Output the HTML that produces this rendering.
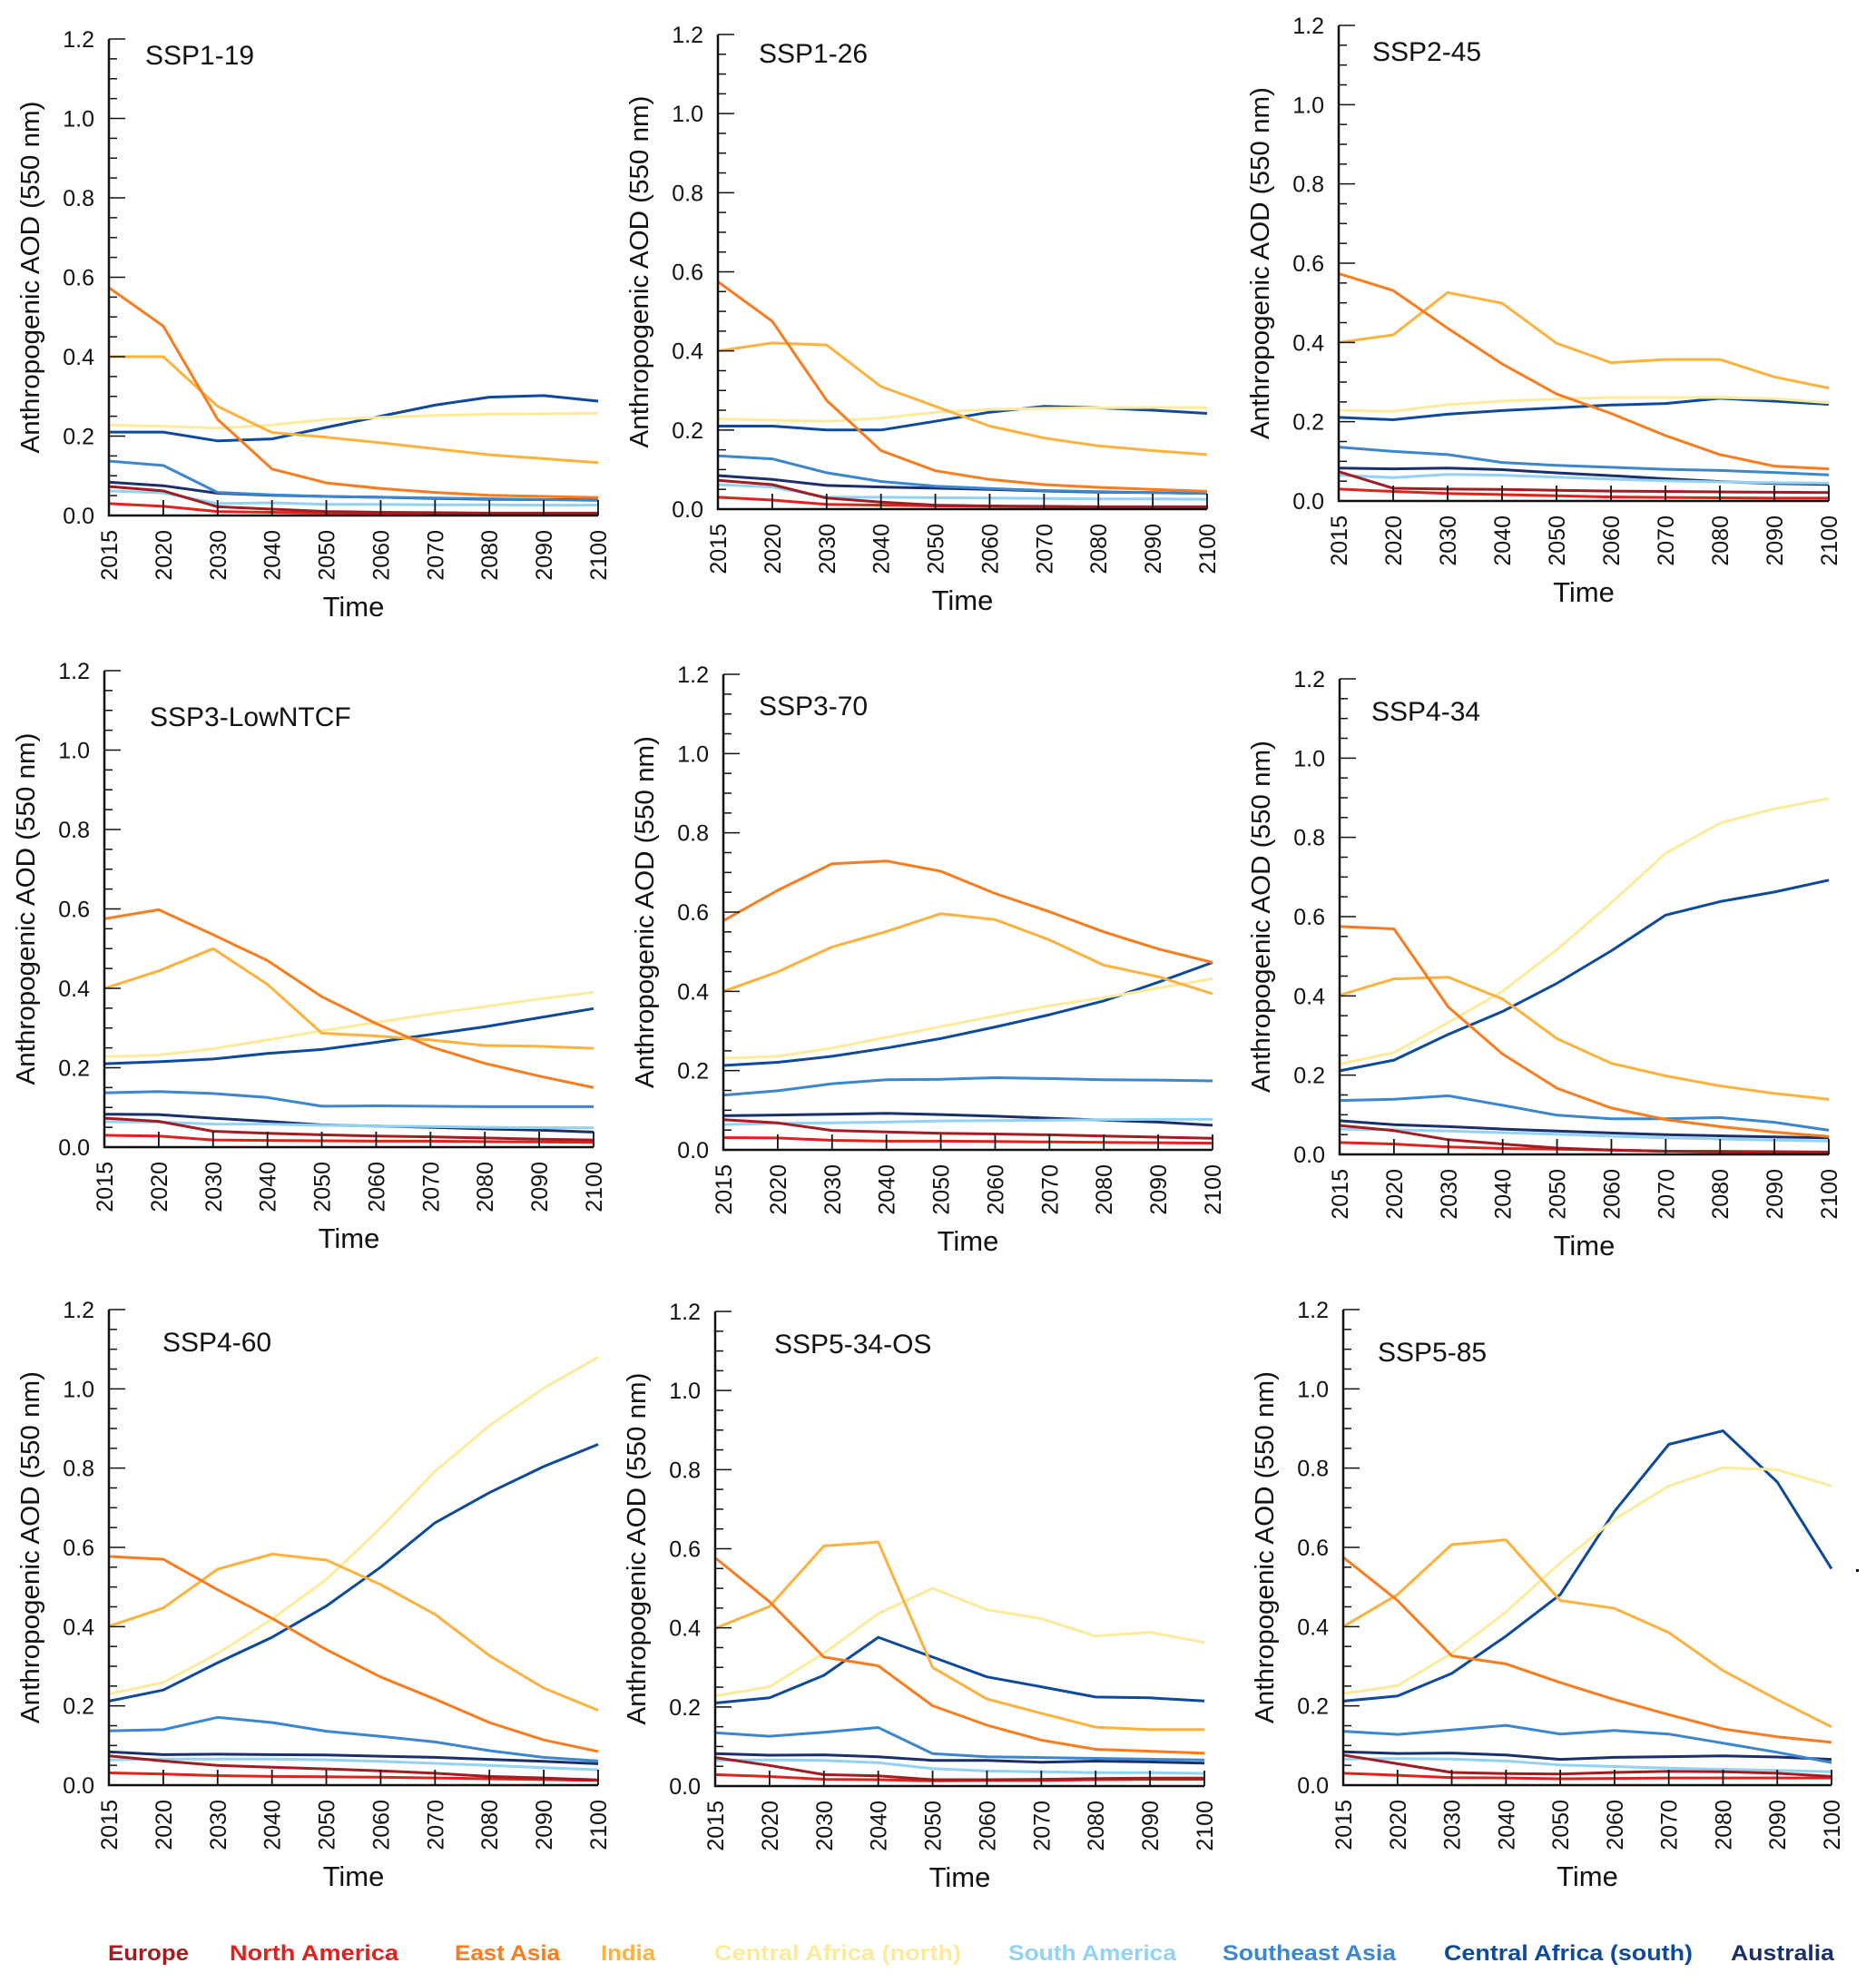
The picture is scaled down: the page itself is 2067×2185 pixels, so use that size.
<!DOCTYPE html>
<html><head><meta charset="utf-8"><style>
html,body{margin:0;padding:0;background:#fff}
svg{display:block}
text{font-family:"Liberation Sans",sans-serif}
</style></head><body>
<svg id="fig" width="2067" height="2185" viewBox="0 0 2067 2185" xmlns="http://www.w3.org/2000/svg"></svg>
<script>
const years = ["2015","2020","2030","2040","2050","2060","2070","2080","2090","2100"];
const yTicks = [0,0.2,0.4,0.6,0.8,1.0,1.2];
const yTickLabels = ["0.0","0.2","0.4","0.6","0.8","1.0","1.2"];
const regions = ["Europe","North America","East Asia","India","Central Africa (north)","South America","Southeast Asia","Central Africa (south)","Australia"];
const regionColors = ["#a31c22","#e3211c","#f97c1f","#feb23e","#fdeb9c","#92d2f4","#3b86d0","#0e4a9c","#1b2f6c"];
const scenarios = ["SSP1-19","SSP1-26","SSP2-45","SSP3-LowNTCF","SSP3-70","SSP4-34","SSP4-60","SSP5-34-OS","SSP5-85"];

const ssp119 = [
 [0.073,0.062,0.022,0.016,0.010,0.008,0.007,0.006,0.006,0.006],
 [0.030,0.023,0.010,0.008,0.006,0.005,0.004,0.004,0.004,0.004],
 [0.574,0.477,0.242,0.117,0.082,0.068,0.058,0.051,0.048,0.045],
 [0.400,0.400,0.275,0.209,0.197,0.183,0.168,0.153,0.143,0.133],
 [0.228,0.225,0.220,0.228,0.242,0.247,0.252,0.255,0.256,0.258],
 [0.062,0.057,0.030,0.032,0.028,0.028,0.027,0.027,0.026,0.026],
 [0.137,0.126,0.058,0.052,0.048,0.046,0.044,0.042,0.040,0.038],
 [0.210,0.210,0.188,0.193,0.222,0.250,0.278,0.298,0.302,0.288],
 [0.084,0.075,0.056,0.051,0.048,0.046,0.043,0.041,0.040,0.040]];
const ssp126 = [
 [0.073,0.062,0.028,0.018,0.010,0.008,0.007,0.006,0.006,0.006],
 [0.030,0.023,0.012,0.010,0.008,0.007,0.006,0.005,0.005,0.005],
 [0.575,0.475,0.275,0.148,0.097,0.075,0.062,0.055,0.050,0.045],
 [0.400,0.420,0.415,0.310,0.260,0.210,0.180,0.160,0.148,0.138],
 [0.228,0.225,0.222,0.230,0.245,0.252,0.255,0.256,0.257,0.257],
 [0.062,0.056,0.030,0.030,0.029,0.028,0.027,0.026,0.026,0.025],
 [0.135,0.127,0.092,0.070,0.058,0.052,0.047,0.044,0.042,0.040],
 [0.210,0.210,0.200,0.200,0.222,0.245,0.260,0.256,0.250,0.242],
 [0.085,0.075,0.060,0.056,0.053,0.050,0.046,0.043,0.042,0.040]];
const ssp245 = [
 [0.074,0.032,0.030,0.029,0.027,0.025,0.024,0.023,0.022,0.021],
 [0.030,0.024,0.019,0.016,0.013,0.010,0.009,0.008,0.007,0.007],
 [0.574,0.531,0.436,0.346,0.270,0.221,0.165,0.117,0.088,0.081],
 [0.400,0.419,0.526,0.499,0.398,0.349,0.357,0.357,0.313,0.285],
 [0.229,0.226,0.243,0.252,0.257,0.261,0.261,0.261,0.258,0.248],
 [0.065,0.059,0.067,0.065,0.060,0.055,0.051,0.048,0.046,0.045],
 [0.136,0.125,0.117,0.097,0.090,0.085,0.080,0.077,0.072,0.066],
 [0.211,0.205,0.219,0.228,0.235,0.242,0.246,0.259,0.252,0.244],
 [0.083,0.081,0.083,0.079,0.071,0.064,0.056,0.049,0.044,0.042]];
const ssp3low = [
 [0.073,0.065,0.040,0.035,0.031,0.028,0.026,0.023,0.020,0.018],
 [0.030,0.028,0.018,0.017,0.016,0.015,0.015,0.014,0.013,0.012],
 [0.575,0.598,0.535,0.470,0.379,0.311,0.253,0.211,0.179,0.150],
 [0.400,0.444,0.500,0.410,0.287,0.280,0.270,0.256,0.254,0.249],
 [0.228,0.232,0.248,0.270,0.293,0.314,0.335,0.354,0.373,0.390],
 [0.064,0.063,0.058,0.058,0.055,0.053,0.052,0.050,0.049,0.049],
 [0.137,0.140,0.135,0.125,0.103,0.104,0.103,0.102,0.102,0.102],
 [0.210,0.215,0.222,0.236,0.246,0.264,0.284,0.303,0.326,0.349],
 [0.083,0.082,0.073,0.065,0.056,0.053,0.050,0.046,0.043,0.038]];
const ssp370 = [
 [0.076,0.068,0.049,0.045,0.042,0.040,0.038,0.035,0.032,0.029],
 [0.031,0.030,0.024,0.022,0.022,0.021,0.020,0.019,0.018,0.017],
 [0.578,0.655,0.722,0.729,0.703,0.647,0.601,0.550,0.507,0.473],
 [0.400,0.449,0.512,0.551,0.596,0.581,0.530,0.466,0.437,0.394],
 [0.231,0.236,0.257,0.284,0.311,0.338,0.364,0.384,0.408,0.432],
 [0.064,0.067,0.068,0.070,0.073,0.074,0.075,0.076,0.077,0.077],
 [0.138,0.149,0.167,0.177,0.178,0.182,0.180,0.177,0.176,0.174],
 [0.213,0.221,0.236,0.257,0.281,0.310,0.341,0.376,0.423,0.473],
 [0.086,0.088,0.090,0.092,0.089,0.085,0.080,0.075,0.070,0.062]];
const ssp434 = [
 [0.073,0.060,0.037,0.026,0.016,0.011,0.008,0.006,0.005,0.005],
 [0.030,0.026,0.019,0.015,0.013,0.011,0.008,0.008,0.007,0.006],
 [0.575,0.569,0.372,0.253,0.167,0.117,0.088,0.070,0.056,0.045],
 [0.402,0.443,0.447,0.392,0.292,0.230,0.198,0.173,0.154,0.139],
 [0.228,0.257,0.333,0.412,0.517,0.635,0.760,0.836,0.872,0.898],
 [0.064,0.062,0.059,0.055,0.051,0.046,0.042,0.039,0.036,0.034],
 [0.136,0.139,0.148,0.124,0.099,0.090,0.090,0.093,0.081,0.061],
 [0.211,0.238,0.303,0.361,0.432,0.514,0.604,0.638,0.662,0.692],
 [0.085,0.075,0.070,0.064,0.059,0.054,0.050,0.047,0.044,0.042]];
const ssp460 = [
 [0.074,0.061,0.050,0.045,0.041,0.036,0.030,0.022,0.018,0.013],
 [0.031,0.028,0.024,0.022,0.021,0.020,0.018,0.016,0.014,0.012],
 [0.577,0.570,0.493,0.421,0.342,0.273,0.217,0.158,0.114,0.085],
 [0.401,0.447,0.545,0.583,0.568,0.506,0.431,0.327,0.245,0.189],
 [0.230,0.259,0.332,0.419,0.519,0.649,0.792,0.907,1.002,1.080],
 [0.064,0.066,0.066,0.066,0.064,0.060,0.055,0.050,0.044,0.039],
 [0.137,0.140,0.171,0.158,0.136,0.123,0.109,0.087,0.070,0.061],
 [0.212,0.240,0.309,0.373,0.452,0.550,0.662,0.738,0.804,0.860],
 [0.084,0.077,0.078,0.077,0.076,0.073,0.070,0.065,0.060,0.054]];
const ssp534 = [
 [0.072,0.052,0.029,0.026,0.016,0.016,0.017,0.019,0.020,0.020],
 [0.029,0.024,0.017,0.016,0.013,0.014,0.014,0.016,0.017,0.017],
 [0.577,0.466,0.326,0.304,0.203,0.154,0.116,0.093,0.088,0.083],
 [0.399,0.454,0.607,0.617,0.300,0.220,0.184,0.149,0.143,0.143],
 [0.228,0.251,0.336,0.436,0.500,0.446,0.423,0.379,0.389,0.363],
 [0.065,0.066,0.065,0.059,0.044,0.038,0.036,0.034,0.034,0.032],
 [0.135,0.126,0.136,0.148,0.082,0.074,0.072,0.070,0.068,0.066],
 [0.210,0.223,0.280,0.376,0.326,0.276,0.251,0.225,0.223,0.215],
 [0.082,0.078,0.079,0.074,0.065,0.065,0.060,0.063,0.061,0.058]];
const ssp585 = [
 [0.076,0.054,0.032,0.029,0.028,0.032,0.035,0.034,0.030,0.022],
 [0.030,0.025,0.019,0.018,0.016,0.017,0.018,0.018,0.018,0.018],
 [0.575,0.466,0.326,0.306,0.259,0.216,0.178,0.142,0.122,0.108],
 [0.400,0.481,0.607,0.619,0.466,0.446,0.385,0.289,0.216,0.147],
 [0.231,0.251,0.333,0.437,0.561,0.671,0.755,0.801,0.796,0.755],
 [0.066,0.067,0.066,0.061,0.051,0.047,0.043,0.040,0.037,0.034],
 [0.136,0.128,0.139,0.151,0.129,0.138,0.129,0.106,0.083,0.057],
 [0.212,0.225,0.282,0.376,0.481,0.691,0.860,0.894,0.765,0.546],
 [0.084,0.080,0.081,0.076,0.065,0.070,0.072,0.074,0.071,0.065]];
const scenarioData = [ssp119,ssp126,ssp245,ssp3low,ssp370,ssp434,ssp460,ssp534,ssp585];

// layout: [left, top, zeroY, right, titleDx, titleDy]
const layout = [
 [120,43,568,659,40,28],[791,38,561,1330,45,31],[1475,28,552,2015,37,39],
 [115,739,1264,654,50,61],[797,743,1267,1336,39,45],[1476,748,1272,2015,35,46],
 [120,1443,1967,659,59,46],[788,1445,1968,1327,65,46],[1480,1443,1967,2018,38,57]];

const NS = "http://www.w3.org/2000/svg";
const fig = document.getElementById('fig');
function mk(tag, attrs, parent){const e=document.createElementNS(NS,tag);for(const k in attrs)e.setAttribute(k,attrs[k]);(parent||fig).appendChild(e);return e;}

scenarios.forEach((name,p)=>{
  const [L,T,Z,R,tdx,tdy] = layout[p];
  const g = mk('g',{});
  
  
  const xS = i => L + (R-L)*i/(years.length-1);
  const yS = v => Z - (Z-T)*v/1.2;
  const data = scenarioData[p];
  for(let s=regions.length-1;s>=0;s--){
    const pts = data[s].map((v,i)=>xS(i).toFixed(1)+','+yS(v).toFixed(1)).join(' ');
    const pl = mk('polyline',{points:pts,fill:'none',stroke:regionColors[s],'stroke-width':3,'stroke-linejoin':'round'},g);
    
    
  }
  const ax = mk('path',{d:`M${L},${T} V${Z} H${R}`,fill:'none',stroke:'#111','stroke-width':2.5},g);
  
  
  for(let k=0;k<=24;k++){
    const v=k*0.05, y=yS(v), major = k%4===0;
    mk('line',{x1:L,x2:L+(major?18:9),y1:y,y2:y,stroke:'#111','stroke-width':1.5},g);
  }
  yTicks.forEach((v,i)=>{
    const t = mk('text',{x:L-16,y:yS(v)+9,'text-anchor':'end','font-size':25,fill:'#111'},g);
    t.textContent = yTickLabels[i];
    
    
  });
  years.forEach((yr,i)=>{
    const x=xS(i);
    mk('line',{x1:x,x2:x,y1:Z,y2:Z-17,stroke:'#111','stroke-width':1.8},g);
    const t = mk('text',{x:0,y:0,'text-anchor':'end','font-size':25,fill:'#111',transform:`translate(${x+9},${Z+16}) rotate(-90)`},g);
    t.textContent = yr;
    
    
  });
  const title = mk('text',{x:L+tdx,y:T+tdy,'font-size':30,fill:'#111'},g);
  title.textContent = name;
  
  
  const yl = mk('text',{x:0,y:0,'text-anchor':'middle','font-size':29,fill:'#111',textLength:388,lengthAdjust:'spacingAndGlyphs',transform:`translate(${L-77},${(T+Z)/2}) rotate(-90)`},g);
  yl.textContent = 'Anthropogenic AOD (550 nm)';
  
  
  const xl = mk('text',{x:(L+R)/2,y:Z+111,'text-anchor':'middle','font-size':31,fill:'#111'},g);
  xl.textContent = 'Time';
  
  
});

mk('rect',{x:2045,y:1729,width:3,height:3,fill:'#111'});

const legendX = [119,253,501,662,787,1111,1347,1591,1907];
const legendW = [89,186,116,60,272,185,191,274,114];
regions.forEach((r,i)=>{
  const t = mk('text',{x:legendX[i],y:2160,'font-size':24,'font-weight':'bold',textLength:legendW[i],lengthAdjust:'spacingAndGlyphs',style:'fill:'+regionColors[i]+';font-family:"Liberation Sans Narrow","Liberation Sans",sans-serif'});
  t.textContent = r;
  
  
});
</script>
</body></html>
